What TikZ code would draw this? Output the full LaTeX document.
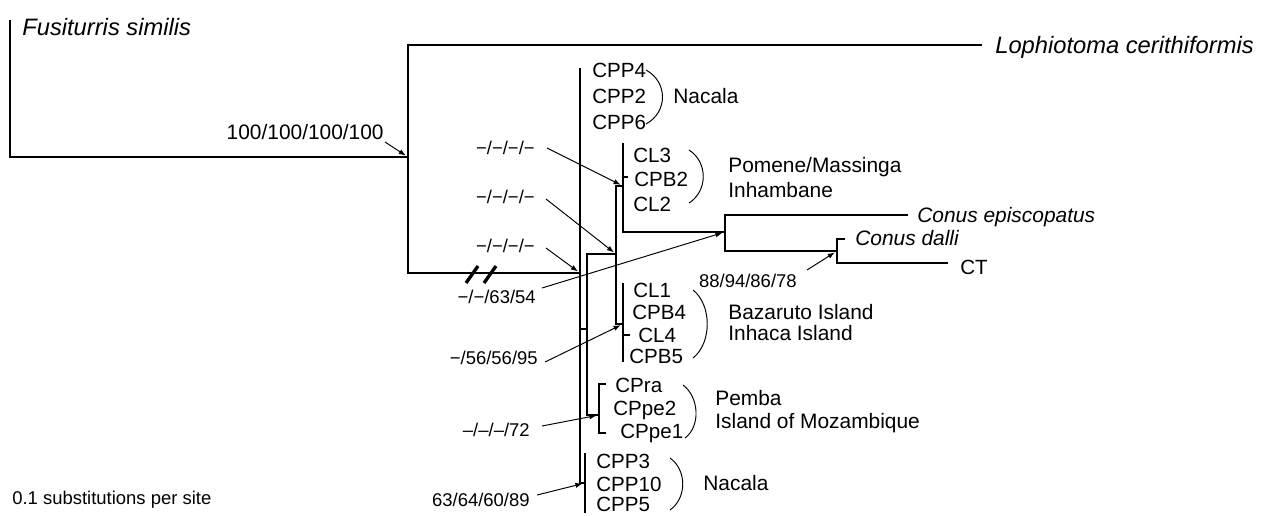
\documentclass[tikz,border=0pt]{standalone}
\usepackage{fontspec}
\setmainfont{Liberation Sans}
\usetikzlibrary{arrows.meta}

\tikzset{
    branch/.style={line width=0.75pt},
    pointer/.style={line width=0.55pt, -{Latex[length=4pt, width=3pt]}, shorten >=1.5pt},
    taxon/.style={anchor=base west, inner sep=0pt, font=\fontsize{11.7}{14}\selectfont},
    species/.style={taxon, font=\fontsize{11.9}{14}\selectfont\itshape},
    outgroup/.style={taxon, font=\fontsize{13.5}{16}\selectfont\itshape},
    locality/.style={taxon, font=\fontsize{11.9}{14}\selectfont},
    support/.style={anchor=base east, inner sep=0pt, font=\fontsize{10.5}{13}\selectfont},
    grouparc/.style={line width=0.55pt},
}

\begin{document}
\begin{tikzpicture}[x=0.02cm, y=-0.02cm]

    \useasboundingbox (0,0) rectangle (1264,515);

    % internal nodes of the tree
    \coordinate (nA) at (408,157);
    \coordinate (nB) at (580,273);
    \coordinate (nC) at (587,329);
    \coordinate (nD) at (616,254);
    \coordinate (nE) at (623,186);
    \coordinate (nF) at (725,232);
    \coordinate (nG) at (837,251);
    \coordinate (nH) at (623,324);
    \coordinate (nI) at (599,415);
    \coordinate (nJ) at (585,483);

    % branch ends
    \coordinate (fusTip) at (10,20);
    \coordinate (lophTip) at (982,45);
    \coordinate (bTop) at (580,68);
    \coordinate (eTop) at (623,143);
    \coordinate (episTip) at (908,215);
    \coordinate (dalliTip) at (845,239);
    \coordinate (ctTip) at (948,263);
    \coordinate (hTop) at (623,283);
    \coordinate (hBot) at (623,362);
    \coordinate (cpraTip) at (606,384);
    \coordinate (cppeTip) at (606,433);
    \coordinate (jTop) at (585,453);
    \coordinate (jBot) at (585,513);

    \draw[branch] (fusTip) |- (nA);
    \draw[branch] (lophTip) -| (nA) |- (nB);
    \draw[branch] (bTop) |- (nJ);
    \draw[branch] (nC -| nB) -- (nC);
    \draw[branch] (nD) -| (nC) |- (nI);
    \draw[branch] (nE) -| (nD) |- (nH);
    \draw[branch] (eTop) |- (nF);
    \draw[branch] (623,177) -- (628,177);
    \draw[branch] (episTip) -| (nF) |- (nG);
    \draw[branch] (dalliTip) -| (nG) |- (ctTip);
    \draw[branch] (hTop) -- (hBot);
    \draw[branch] (623,335) -- (630,335);
    \draw[branch] (cpraTip) -| (nI) |- (cppeTip);
    \draw[branch] (jTop) -- (jBot);

    \draw[line width=1.9pt] (466,283) -- (478,266);
    \draw[line width=1.9pt] (484,283) -- (496,266);

    \node[outgroup] (fus) at (22,35) {Fusiturris similis};
    \node[outgroup] (loph) at (995,53) {Lophiotoma cerithiformis};
    \node[taxon] (cpp4) at (592,77) {CPP4};
    \node[taxon] (cpp2) at (592,103) {CPP2};
    \node[taxon] (cpp6) at (592,129) {CPP6};
    \node[taxon] (cl3) at (633,162) {CL3};
    \node[taxon] (cpb2) at (634,186) {CPB2};
    \node[taxon] (cl2) at (633,211) {CL2};
    \node[species] (epis) at (917,222) {Conus episcopatus};
    \node[species] (dalli) at (855,245) {Conus dalli};
    \node[taxon] (ct) at (960,274) {CT};
    \node[taxon] (cl1) at (633,297) {CL1};
    \node[taxon] (cpb4) at (632,319) {CPB4};
    \node[taxon] (cl4) at (638,342) {CL4};
    \node[taxon] (cpb5) at (629,363) {CPB5};
    \node[taxon] (cpra) at (615,392) {CPra};
    \node[taxon] (cppe2) at (613,415) {CPpe2};
    \node[taxon] (cppe1) at (620,438) {CPpe1};
    \node[taxon] (cpp3) at (596,468) {CPP3};
    \node[taxon] (cpp10) at (596,491) {CPP10};
    \node[taxon] (cpp5) at (596,511) {CPP5};

    \node[locality] (nacalaTop) at (673,103) {Nacala};
    \node[locality] (pomene) at (728,172) {Pomene/Massinga};
    \node[locality] (inhambane) at (728,197) {Inhambane};
    \node[locality] (bazaruto) at (728,319) {Bazaruto Island};
    \node[locality] (inhaca) at (728,340) {Inhaca Island};
    \node[locality] (pemba) at (715,405) {Pemba};
    \node[locality] (mozambique) at (715,428) {Island of Mozambique};
    \node[locality] (nacalaBot) at (703,490) {Nacala};

    \draw[grouparc] (646,70) .. controls +(22,12) and +(22,-12) .. (646,124);
    \draw[grouparc] (689,150) .. controls +(19,12) and +(19,-12) .. (689,203);
    \draw[grouparc] (693,290) .. controls +(19,15) and +(19,-15) .. (693,358);
    \draw[grouparc] (683,385) .. controls +(16,12) and +(16,-12) .. (685,438);
    \draw[grouparc] (670,458) .. controls +(17,12) and +(17,-12) .. (670,510);

    \node[support, font=\fontsize{11.9}{14}\selectfont] (s1) at (384,139) {100/100/100/100};
    \node[support] (s2) at (535,154) {−/−/−/−};
    \node[support] (s3) at (535,203) {−/−/−/−};
    \node[support] (s4) at (535,252) {−/−/−/−};
    \node[support] (s5) at (536,303) {−/−/63/54};
    \node[support] (s6) at (797,287) {88/94/86/78};
    \node[support] (s7) at (538,364) {−/56/56/95};
    \node[support] (s8) at (530,436) {–/–/–/72};
    \node[support] (s9) at (530,506) {63/64/60/89};
    \node[support, anchor=base west] (scale) at (12,504) {0.1 substitutions per site};

    \draw[pointer] ([shift={(1,3)}]s1.base east) -- (nA);
    \draw[pointer] ([shift={(12,-6)}]s2.base east) -- (nE);
    \draw[pointer] ([shift={(11,-4)}]s3.base east) -- (nD);
    \draw[pointer] ([shift={(11,-4)}]s4.base east) -- (nB);
    \draw[pointer] ([shift={(6,-15)}]s5.base east) -- (nF);
    \draw[pointer] ([shift={(10,-17)}]s6.base east) -- (nG);
    \draw[pointer] ([shift={(7,-2)}]s7.base east) -- (nH);
    \draw[pointer] ([shift={(12,-10)}]s8.base east) -- (nI);
    \draw[pointer] ([shift={(7,-11)}]s9.base east) -- (nJ);

\end{tikzpicture}
\end{document}
